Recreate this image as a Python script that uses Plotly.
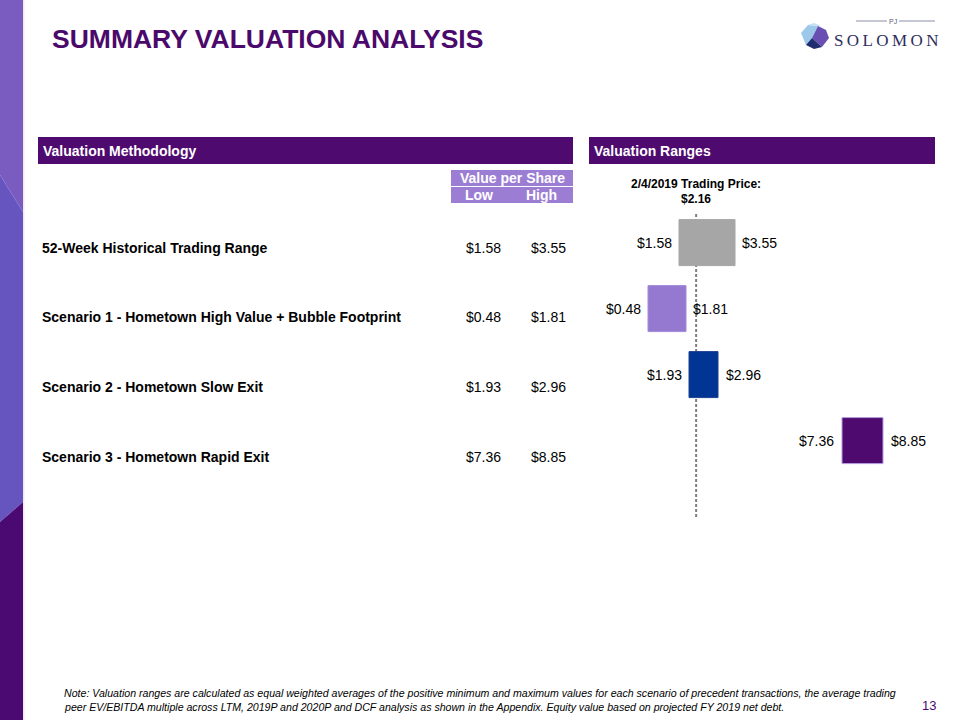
import plotly.graph_objects as go

# ---------------- data ----------------
methods = [
    "52-Week Historical Trading Range",
    "Scenario 1 - Hometown High Value + Bubble Footprint",
    "Scenario 2 - Hometown Slow Exit",
    "Scenario 3 - Hometown Rapid Exit",
]
low_values = [1.58, 0.48, 1.93, 7.36]
high_values = [3.55, 1.81, 2.96, 8.85]
bar_colors = ["#A6A6A6", "#9579D1", "#003594", "#4F0A70"]
bar_line_colors = ["#A6A6A6", "#A58BDB", "#1F3F8F", "#B49BE0"]
trading_price = 2.16
trading_date = "2/4/2019"

W, H = 960, 720
PURPLE = "#4F0A70"
LAV = "#9B7DD4"
FONT = "Arial, Liberation Sans, sans-serif"


def px(x):
    return x / W


def py(y):
    return 1 - y / H


fig = go.Figure()

rows = list(range(len(methods)))

# Range bars
fig.add_trace(go.Bar(
    y=rows,
    x=[h - l for l, h in zip(low_values, high_values)],
    base=low_values,
    orientation="h",
    width=0.7,
    marker=dict(color=bar_colors, line=dict(color=bar_line_colors, width=1)),
    hoverinfo="skip",
    showlegend=False,
))

annotations = []

# bar labels
for r, l, h in zip(rows, low_values, high_values):
    annotations.append(dict(x=l, y=r, xref="x", yref="y", text=f"${l:.2f}",
                            showarrow=False, xanchor="right", yanchor="middle",
                            xshift=-6, font=dict(family=FONT, size=14, color="#000000")))
    annotations.append(dict(x=h, y=r, xref="x", yref="y", text=f"${h:.2f}",
                            showarrow=False, xanchor="left", yanchor="middle",
                            xshift=5, font=dict(family=FONT, size=14, color="#000000")))

# trading price label
annotations.append(dict(x=trading_price, y=py(184), xref="x", yref="paper",
                        text=f"<b>{trading_date} Trading Price:</b>", showarrow=False,
                        xanchor="center", yanchor="middle",
                        font=dict(family=FONT, size=12, color="#000000")))
annotations.append(dict(x=trading_price, y=py(199), xref="x", yref="paper",
                        text=f"<b>${trading_price:.2f}</b>", showarrow=False,
                        xanchor="center", yanchor="middle",
                        font=dict(family=FONT, size=12, color="#000000")))

# title
annotations.append(dict(x=px(50), y=py(39), xref="paper", yref="paper",
                        text="<b>SUMMARY VALUATION ANALYSIS</b>", showarrow=False,
                        xanchor="left", yanchor="middle",
                        font=dict(family=FONT, size=26.5, color="#4B0A6B")))

# section headers
annotations.append(dict(x=px(41), y=py(151), xref="paper", yref="paper",
                        text="<b>Valuation Methodology</b>", showarrow=False,
                        xanchor="left", yanchor="middle",
                        font=dict(family=FONT, size=14, color="white")))
annotations.append(dict(x=px(592), y=py(151), xref="paper", yref="paper",
                        text="<b>Valuation Ranges</b>", showarrow=False,
                        xanchor="left", yanchor="middle",
                        font=dict(family=FONT, size=14, color="white")))

# value per share header
annotations.append(dict(x=px(512), y=py(178), xref="paper", yref="paper",
                        text="<b>Value per Share</b>", showarrow=False,
                        xanchor="center", yanchor="middle",
                        font=dict(family=FONT, size=14, color="white")))
annotations.append(dict(x=px(479), y=py(195), xref="paper", yref="paper",
                        text="<b>Low</b>", showarrow=False,
                        xanchor="center", yanchor="middle",
                        font=dict(family=FONT, size=14, color="white")))
annotations.append(dict(x=px(541), y=py(195), xref="paper", yref="paper",
                        text="<b>High</b>", showarrow=False,
                        xanchor="center", yanchor="middle",
                        font=dict(family=FONT, size=14, color="white")))

# table rows
row_y = [248, 317, 387, 457]
for yy, name, l, h in zip(row_y, methods, low_values, high_values):
    annotations.append(dict(x=px(40), y=py(yy), xref="paper", yref="paper",
                            text=f"<b>{name}</b>", showarrow=False,
                            xanchor="left", yanchor="middle",
                            font=dict(family=FONT, size=14, color="#000000")))
    annotations.append(dict(x=px(483), y=py(yy), xref="paper", yref="paper",
                            text=f"${l:.2f}", showarrow=False,
                            xanchor="center", yanchor="middle",
                            font=dict(family=FONT, size=14, color="#000000")))
    annotations.append(dict(x=px(548), y=py(yy), xref="paper", yref="paper",
                            text=f"${h:.2f}", showarrow=False,
                            xanchor="center", yanchor="middle",
                            font=dict(family=FONT, size=14, color="#000000")))

# note
note1 = ("Note: Valuation ranges are calculated as equal weighted averages of the positive minimum and "
         "maximum values for each scenario of precedent transactions, the average trading")
note2 = ("peer EV/EBITDA multiple across LTM, 2019P and 2020P and DCF analysis as shown in the Appendix. "
         "Equity value based on projected FY 2019 net debt.")
NOTE_FONT = "Liberation Sans Narrow, Arial Narrow, Arial, sans-serif"
annotations.append(dict(x=px(62), y=py(693), xref="paper", yref="paper",
                        text=f"<i>{note1}</i>", showarrow=False, xanchor="left", yanchor="middle",
                        font=dict(family=NOTE_FONT, size=10.6, color="#000000")))
annotations.append(dict(x=px(62), y=py(707), xref="paper", yref="paper",
                        text=f"<i>{note2}</i>", showarrow=False, xanchor="left", yanchor="middle",
                        font=dict(family=NOTE_FONT, size=10.6, color="#000000")))
annotations.append(dict(x=px(938), y=py(705), xref="paper", yref="paper",
                        text="13", showarrow=False, xanchor="right", yanchor="middle",
                        font=dict(family=NOTE_FONT, size=13, color=PURPLE)))

# logo text
TH = "\u2009"
annotations.append(dict(x=px(886), y=py(40), xref="paper", yref="paper",
                        text=TH.join("SOLOMON"), showarrow=False, xanchor="center", yanchor="middle",
                        font=dict(family="Liberation Serif, DejaVu Serif, serif", size=17, color="#2E2D5E")))
annotations.append(dict(x=px(893), y=py(21), xref="paper", yref="paper",
                        text="PJ", showarrow=False, xanchor="center", yanchor="middle",
                        font=dict(family=FONT, size=7, color="#5A5F80")))

shapes = []

# trading price dashed line (drawn beneath the bars)
shapes.append(dict(type="line", xref="x", yref="y", x0=trading_price, x1=trading_price,
                   y0=-0.44, y1=4.15, layer="below",
                   line=dict(color="#7F7F7F", width=2, dash="3px,2px")))


def rect(x0, y0, x1, y1, color, line=None):
    shapes.append(dict(type="rect", xref="paper", yref="paper",
                       x0=px(x0), x1=px(x1), y0=py(y1), y1=py(y0),
                       fillcolor=color, line=dict(width=0) if line is None else line,
                       layer="below"))


def poly(points, color):
    d = "M " + " L ".join(f"{px(x):.5f},{py(y):.5f}" for x, y in points) + " Z"
    shapes.append(dict(type="path", xref="paper", yref="paper", path=d,
                       fillcolor=color, line=dict(width=0), layer="below"))


# left decorative strip
poly([(0, 0), (23, 0), (23, 212), (0, 175)], "#7A5CC1")
poly([(0, 175), (23, 212), (23, 502), (0, 522)], "#6655BF")
poly([(0, 522), (23, 502), (23, 720), (0, 720)], "#4A0A72")
rect(23, 0, 24.5, 720, "#F1E6F6")

# header bars
rect(38, 137, 573, 164, PURPLE)
rect(589, 137, 935, 164, PURPLE)
rect(451, 170, 573, 186, LAV)
rect(451, 187, 573, 203, LAV)

# logo gem
poly([(801, 33), (808, 25), (818, 26), (812, 38), (806, 45)], "#9CC9EA")
poly([(808, 25), (814, 23), (821, 26), (818, 26)], "#C4E0F4")
poly([(818, 26), (826, 30), (829, 38), (822, 47), (812, 38)], "#6A4FB3")
poly([(806, 45), (812, 38), (822, 47), (814, 49)], "#1F2D6E")
# logo lines
shapes.append(dict(type="line", xref="paper", yref="paper", x0=px(856), x1=px(887),
                   y0=py(21), y1=py(21), line=dict(color="#8A8FA8", width=1)))
shapes.append(dict(type="line", xref="paper", yref="paper", x0=px(899), x1=px(935),
                   y0=py(21), y1=py(21), line=dict(color="#8A8FA8", width=1)))

fig.update_layout(
    width=W, height=H,
    margin=dict(l=0, r=0, t=0, b=0),
    paper_bgcolor="white", plot_bgcolor="white",
    showlegend=False,
    xaxis=dict(domain=[px(635.5), px(930.3)], range=[0, 10.5], visible=False,
               showgrid=False, zeroline=False, fixedrange=True),
    yaxis=dict(domain=[py(520.2), py(200.1)], range=[4.2, -0.65], visible=False,
               showgrid=False, zeroline=False, fixedrange=True),
    bargap=0,
    annotations=annotations,
    shapes=shapes,
)

fig.write_html("out.html", config={"displayModeBar": False},
               post_script="document.body.style.margin='0';document.body.style.overflow='hidden';")
